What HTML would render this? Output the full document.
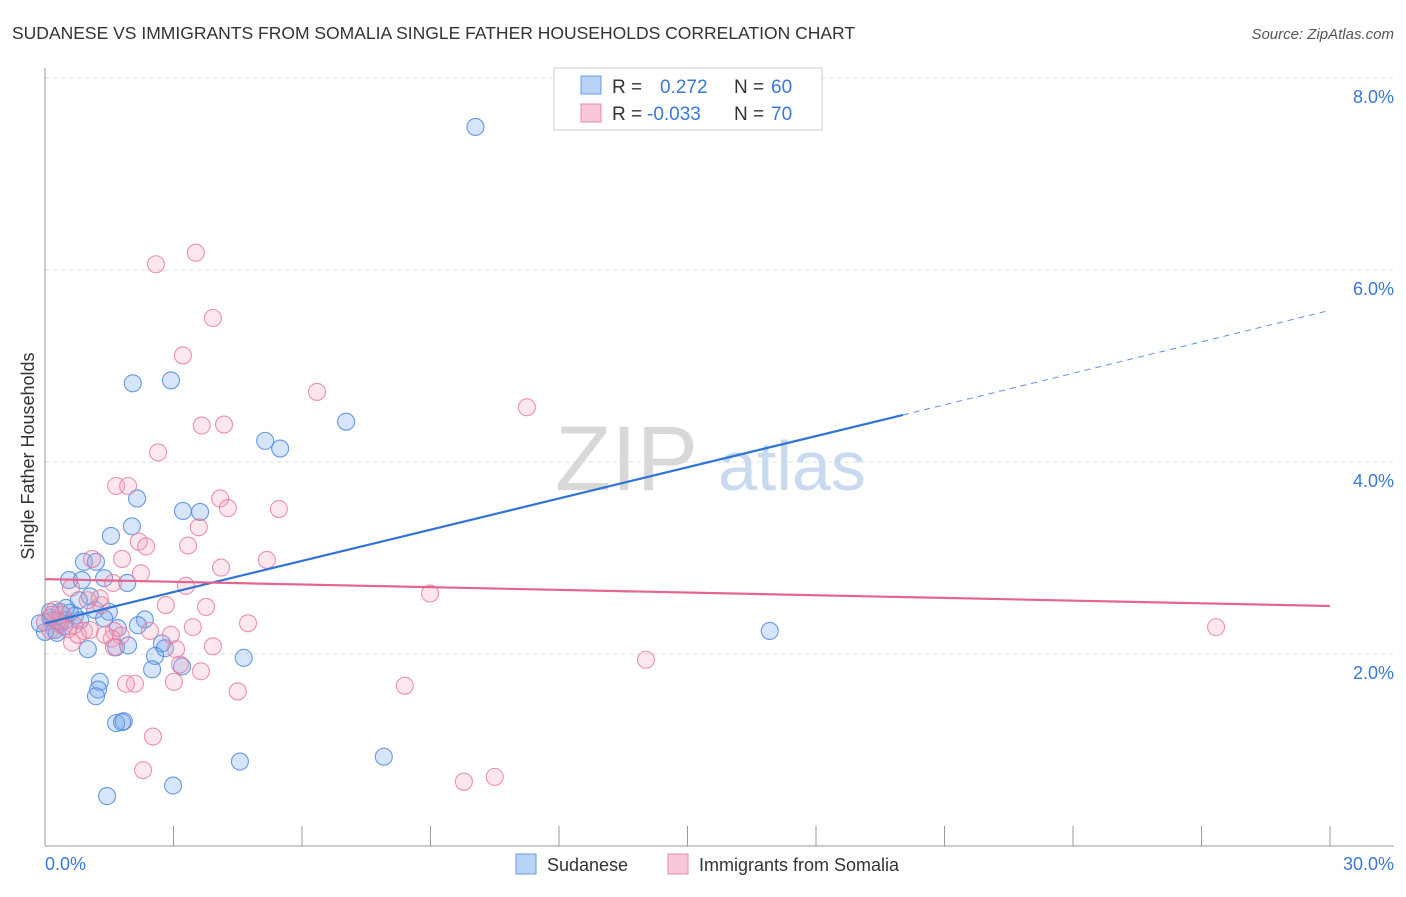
<!DOCTYPE html>
<html><head><meta charset="utf-8"><style>
body{margin:0;background:#fff;font-family:"Liberation Sans",sans-serif;}
svg text{font-family:"Liberation Sans",sans-serif;}
</style></head><body>
<svg id="chart" width="1406" height="892" xmlns="http://www.w3.org/2000/svg">
<text x="12" y="39" font-size="17.5" fill="#333">SUDANESE VS IMMIGRANTS FROM SOMALIA SINGLE FATHER HOUSEHOLDS CORRELATION CHART</text>
<text x="1394" y="39" font-size="15" fill="#555" font-style="italic" text-anchor="end">Source: ZipAtlas.com</text>
<g id="grid"></g>
<text x="555" y="490" font-size="92" fill="#d8d8d8" font-family="Liberation Serif">ZIP</text>
<text x="718" y="490" font-size="70" fill="#c9daf0">atlas</text>
<line x1="45" y1="68" x2="45" y2="846" stroke="#999"/>
<line x1="45" y1="846" x2="1394" y2="846" stroke="#999"/>
<text transform="translate(34,456) rotate(-90)" font-size="18" fill="#333" text-anchor="middle">Single Father Households</text>
<text x="45" y="870" font-size="18" fill="#3a78d8">0.0%</text>
<text x="1394" y="870" font-size="18" fill="#3a78d8" text-anchor="end">30.0%</text>
<g id="points"></g>
<g id="trends"></g>
<g>
<rect x="554" y="68" width="268" height="62" fill="#fff" stroke="#ccc"/>
<rect x="581" y="76" width="20" height="18" fill="#b8d3f5" stroke="#6a9de0"/>
<rect x="581" y="104" width="20" height="18" fill="#f9c8d6" stroke="#e98aa8"/>
<text x="612" y="93" font-size="19" fill="#333">R =</text>
<text x="660" y="93" font-size="19" fill="#3a78d8">0.272</text>
<text x="734" y="93" font-size="19" fill="#333">N =</text>
<text x="771" y="93" font-size="19" fill="#3a78d8">60</text>
<text x="612" y="120" font-size="19" fill="#333">R =</text>
<text x="647" y="120" font-size="19" fill="#3a78d8">-0.033</text>
<text x="734" y="120" font-size="19" fill="#333">N =</text>
<text x="771" y="120" font-size="19" fill="#3a78d8">70</text>
</g>
<g>
<rect x="516" y="854" width="20" height="20" fill="#b8d3f5" stroke="#6a9de0"/>
<text x="547" y="871" font-size="18" fill="#333">Sudanese</text>
<rect x="668" y="854" width="20" height="20" fill="#f9c8d6" stroke="#e98aa8"/>
<text x="699" y="871" font-size="18" fill="#333">Immigrants from Somalia</text>
</g>
</svg>
<script>
const yTicks=[2,4,6,8];
const xTicks=[0,3,6,9,12,15,18,21,24,27,30];
const sudX=[10.05,2.05,2.94,7.03,5.14,5.49,2.15,3.22,3.62,2.03,1.54,0.91,1.19,0.56,0.86,1.38,1.92,1.05,0.79,1.17,1.49,0.35,0.58,0.16,0.47,2.33,2.17,1.38,0.23,1.7,0.28,16.92,1.0,1.66,1.94,2.73,2.8,2.57,4.64,2.5,3.2,1.28,1.24,1.19,1.84,1.66,1.8,4.55,7.91,1.45,2.99,0.0,0.35,0.7,0.12,0.44,-0.12,0.82,0.49,0.12];
const sudY=[7.49,4.82,4.85,4.42,4.22,4.14,3.62,3.49,3.48,3.33,3.23,2.96,2.96,2.77,2.77,2.79,2.74,2.6,2.56,2.46,2.44,2.44,2.43,2.35,2.35,2.36,2.3,2.37,2.25,2.27,2.22,2.24,2.05,2.07,2.09,2.11,2.06,1.98,1.96,1.84,1.87,1.71,1.63,1.56,1.3,1.28,1.29,0.88,0.93,0.52,0.63,2.23,2.33,2.4,2.38,2.29,2.32,2.35,2.48,2.44];
const somX=[3.52,2.59,3.92,3.22,6.35,11.25,3.66,4.18,2.64,1.66,1.94,4.09,4.27,5.46,3.59,2.19,2.36,3.34,1.1,1.8,5.18,4.11,2.24,0.61,3.29,8.99,1.59,1.31,2.82,3.76,0.68,0.91,1.61,2.45,4.74,27.34,2.94,3.45,1.77,1.56,0.63,3.06,3.92,1.61,3.15,3.64,14.03,1.89,2.1,4.5,8.4,3.01,2.52,2.29,9.78,10.5,0.23,0.35,0.54,0.77,1.0,1.28,0.12,0.4,0.3,1.05,1.4,0.0,0.16];
const somY=[6.18,6.06,5.5,5.11,4.73,4.57,4.38,4.39,4.1,3.75,3.75,3.62,3.52,3.51,3.32,3.17,3.12,3.13,2.99,2.99,2.98,2.9,2.84,2.69,2.71,2.63,2.74,2.51,2.51,2.49,2.3,2.24,2.24,2.24,2.32,2.28,2.2,2.28,2.19,2.16,2.12,2.05,2.08,2.07,1.89,1.82,1.94,1.69,1.69,1.61,1.67,1.71,1.14,0.79,0.67,0.72,2.46,2.31,2.26,2.2,2.56,2.58,2.25,2.41,2.35,2.25,2.2,2.33,2.41];
const sudTrend=[0,2.32,20.03,4.49,30,5.58];
const somTrend=[0,2.78,30,2.5];
const NS="http://www.w3.org/2000/svg";
const xS=v=>45+v/30*1285;
const yS=v=>846-v*96;
const grid=document.getElementById('grid');
yTicks.forEach(t=>{
 const l=document.createElementNS(NS,'line');
 
 
 l.setAttribute('x1',45);l.setAttribute('x2',1394);l.setAttribute('y1',yS(t));l.setAttribute('y2',yS(t));
 l.setAttribute('stroke','#ddd');l.setAttribute('stroke-dasharray','4,4');
 grid.appendChild(l);
 const tx=document.createElementNS(NS,'text');
 
 
 tx.setAttribute('x',1394);tx.setAttribute('y',yS(t)+25);tx.setAttribute('text-anchor','end');
 tx.setAttribute('font-size','18');tx.setAttribute('fill','#3a78d8');tx.textContent=t.toFixed(1)+'%';
 grid.appendChild(tx);
});
xTicks.forEach(t=>{
 const l=document.createElementNS(NS,'line');
 
 
 l.setAttribute('x1',xS(t));l.setAttribute('x2',xS(t));l.setAttribute('y1',826);l.setAttribute('y2',846);
 l.setAttribute('stroke','#999');grid.appendChild(l);
});
const pts=document.getElementById('points');
function dots(xs,ys,fill,stroke,name){
 xs.forEach((x,i)=>{
  const c=document.createElementNS(NS,'circle');
  
  
  c.setAttribute('cx',xS(x));c.setAttribute('cy',yS(ys[i]));c.setAttribute('r',8.5);
  c.setAttribute('fill',fill);c.setAttribute('stroke',stroke);c.setAttribute('stroke-width','1.1');
  pts.appendChild(c);
 });
}
dots(sudX,sudY,'rgba(120,170,235,0.3)','rgba(70,130,220,0.8)','sudanese-point');
dots(somX,somY,'rgba(245,160,185,0.25)','rgba(230,120,160,0.8)','somalia-point');
const tr=document.getElementById('trends');
function line(x1,y1,x2,y2,col,w,dash,name){
 const l=document.createElementNS(NS,'line');
 
 
 l.setAttribute('x1',xS(x1));l.setAttribute('y1',yS(y1));l.setAttribute('x2',xS(x2));l.setAttribute('y2',yS(y2));
 l.setAttribute('stroke',col);l.setAttribute('stroke-width',w);if(dash)l.setAttribute('stroke-dasharray',dash);
 tr.appendChild(l);
}
line(sudTrend[0],sudTrend[1],sudTrend[2],sudTrend[3],'#2f74d6',2.2,null,'sudanese-trend-line');
line(sudTrend[2],sudTrend[3],sudTrend[4],sudTrend[5],'#5b93e0',1,'6,5','sudanese-trend-extension');
line(somTrend[0],somTrend[1],somTrend[2],somTrend[3],'#e5658f',2.2,null,'somalia-trend-line');
</script>
</body></html>
